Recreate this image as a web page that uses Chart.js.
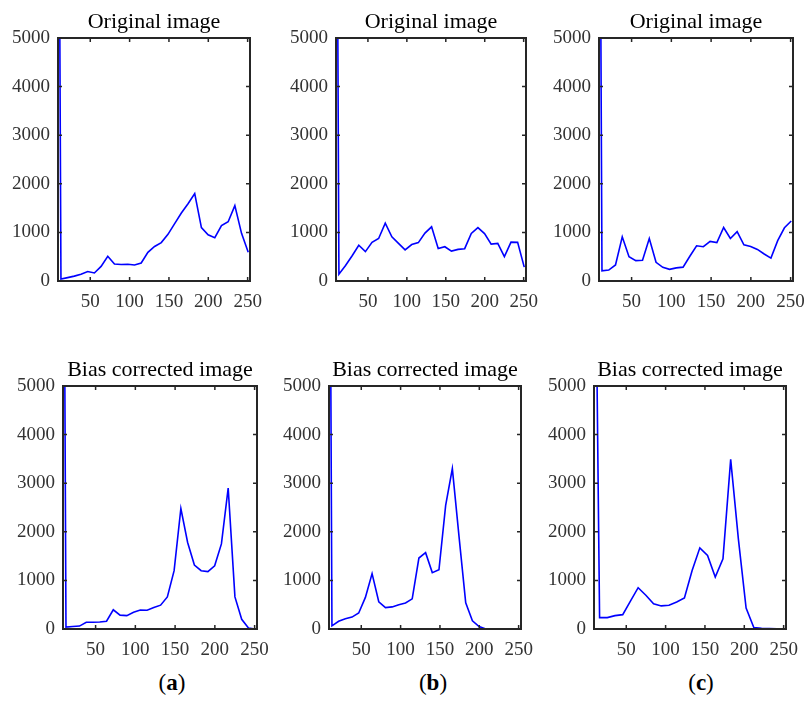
<!DOCTYPE html>
<html lang="en">
<head>
  <meta charset="UTF-8" />
  <title>Histograms: original vs bias corrected</title>
  <script src="https://cdn.jsdelivr.net/npm/chart.js"></script>
  <style>
    body { margin: 0; background: #fff; width: 804px; height: 725px; position: relative; overflow: hidden; }
    canvas { position: absolute; }
    .cap { position: absolute; top: 670px; width: 60px; margin-left: -30px; text-align: center;
           font-family: "Liberation Serif", serif; font-size: 23px; color: #000; }
    .cap b { font-weight: bold; }
  </style>
</head>
<body>
  <canvas id="a1"></canvas>
  <canvas id="b1"></canvas>
  <canvas id="c1"></canvas>
  <canvas id="a2"></canvas>
  <canvas id="b2"></canvas>
  <canvas id="c2"></canvas>
  <div class="cap" style="left:172px">(<b>a</b>)</div>
  <div class="cap" style="left:433px">(<b>b</b>)</div>
  <div class="cap" style="left:701px">(<b>c</b>)</div>

  <script>
    // 30 histogram bins over 0..255, bin centres
    const binCenters = [4.25, 12.75, 21.25, 29.75, 38.25, 46.75, 55.25, 63.75, 72.25, 80.75,
      89.25, 97.75, 106.25, 114.75, 123.25, 131.75, 140.25, 148.75, 157.25, 165.75,
      174.25, 182.75, 191.25, 199.75, 208.25, 216.75, 225.25, 233.75, 242.25, 250.75];
    // the corrected image (c) spans a wider range, so its bins are wider
    const binCentersC2 = [6.3, 16.1, 25.9, 35.7, 45.5, 55.3, 65.1, 74.9, 84.7, 94.5,
      104.3, 114.1, 123.9, 133.7, 143.5, 153.3, 163.1, 172.9, 182.7, 192.5,
      202.3, 212.1, 221.9, 231.7, 241.5, 251.3, 261.1, 270.9, 280.7, 290.5];

    // counts per bin (first bin is the background, way above the axis limit)
    const origA = [30000, 40, 70, 100, 140, 195, 165, 300, 510, 350, 340, 345, 330, 370, 590,
      710, 790, 960, 1180, 1400, 1590, 1800, 1100, 950, 890, 1140, 1220, 1550, 980, 590];
    const origB = [30000, 140, 320, 520, 735, 605, 795, 875, 1190, 910, 775, 640, 750, 790, 985,
      1115, 670, 705, 615, 650, 665, 980, 1100, 975, 760, 775, 500, 800, 795, 285];
    const origC = [30000, 210, 225, 330, 910, 500, 420, 425, 875, 385, 280, 240, 270, 285, 510,
      725, 705, 815, 790, 1100, 875, 1015, 745, 710, 650, 555, 470, 830, 1095, 1235];
    const corrA = [30000, 40, 50, 60, 140, 140, 145, 160, 395, 285, 275, 345, 390, 385, 440,
      490, 660, 1200, 2480, 1780, 1315, 1200, 1180, 1300, 1750, 2900, 660, 200, 20, 0];
    const corrB = [30000, 65, 160, 210, 245, 330, 650, 1140, 560, 440, 455, 500, 535, 620, 1460,
      1570, 1160, 1220, 2545, 3300, 1900, 540, 170, 50, 0, 0, 0, 0, 0, 0];
    const corrC = [15000, 235, 235, 275, 295, 575, 850, 695, 520, 475, 490, 555, 640, 1205, 1670,
      1515, 1070, 1445, 3490, 1850, 430, 30, 15, 10, 5, 0, 0, 0, 0, 0];

    const xTicks = [50, 100, 150, 200, 250];
    const yTicks = [0, 1000, 2000, 3000, 4000, 5000];
    const titleTop = 'Original image';
    const titleBottom = 'Bias corrected image';

    const axisColor = '#262626';
    const font = '"Liberation Serif", "Times New Roman", serif';

    // MATLAB style box with inward ticks on all four sides
    const boxPlugin = {
      id: 'box',
      afterDraw(chart) {
        const { ctx, chartArea: a, scales: { x, y } } = chart;
        ctx.save();
        ctx.strokeStyle = axisColor;
        ctx.lineWidth = 2;
        ctx.strokeRect(a.left, a.top, a.right - a.left, a.bottom - a.top);
        ctx.lineWidth = 1.5;
        ctx.beginPath();
        xTicks.forEach(v => {
          const px = x.getPixelForValue(v);
          ctx.moveTo(px, a.bottom); ctx.lineTo(px, a.bottom - 4);
          ctx.moveTo(px, a.top); ctx.lineTo(px, a.top + 4);
        });
        yTicks.forEach(v => {
          const py = y.getPixelForValue(v);
          ctx.moveTo(a.left, py); ctx.lineTo(a.left + 4, py);
          ctx.moveTo(a.right, py); ctx.lineTo(a.right - 4, py);
        });
        ctx.stroke();
        ctx.restore();
      }
    };

    // an empty right axis as wide as the left one keeps the title centred over the box
    const yAxisW = 64, xAxisH = 34, titleH = 33;

    function makeChart(id, title, centers, values, L, T, R, B) {
      const cv = document.getElementById(id);
      const w = (R - L) + 2 * yAxisW;
      const h = (B - T) + titleH + xAxisH;
      cv.style.left = (L - yAxisW) + 'px';
      cv.style.top = (T - titleH) + 'px';
      cv.width = w; cv.height = h;
      cv.style.width = w + 'px'; cv.style.height = h + 'px';

      new Chart(cv, {
        type: 'line',
        data: {
          datasets: [{
            data: centers.map((c, i) => ({ x: c, y: values[i] })),
            borderColor: '#0000ff',
            borderWidth: 1.6,
            pointRadius: 0,
            tension: 0,
            fill: false
          }]
        },
        options: {
          responsive: false,
          animation: false,
          layout: { padding: 0 },
          plugins: {
            legend: { display: false },
            tooltip: { enabled: false },
            title: {
              display: true,
              text: title,
              color: '#000',
              font: { family: font, size: 22, weight: 'normal', lineHeight: 1 },
              padding: { top: 6, bottom: 5 }
            }
          },
          scales: {
            x: {
              type: 'linear',
              min: 9,
              max: 253,
              grid: { display: false, drawTicks: false },
              border: { display: false },
              afterBuildTicks: s => { s.ticks = xTicks.map(v => ({ value: v })); },
              afterFit: s => { s.height = xAxisH; },
              ticks: {
                color: '#333',
                font: { family: font, size: 19 },
                padding: 10,
                maxRotation: 0,
                autoSkip: false,
                callback: v => String(v)
              }
            },
            y: {
              min: 0,
              max: 5000,
              grid: { display: false, drawTicks: false },
              border: { display: false },
              afterBuildTicks: s => { s.ticks = yTicks.map(v => ({ value: v })); },
              afterFit: s => { s.width = yAxisW; },
              ticks: {
                color: '#333',
                font: { family: font, size: 19 },
                padding: 8,
                callback: v => String(v)
              }
            },
            yR: {
              position: 'right',
              min: 0,
              max: 5000,
              grid: { display: false, drawTicks: false },
              border: { display: false },
              ticks: { display: false },
              afterFit: s => { s.width = yAxisW; }
            }
          }
        },
        plugins: [boxPlugin]
      });
    }

    makeChart('a1', titleTop, binCenters, origA, 58, 38, 250, 281);
    makeChart('b1', titleTop, binCenters, origB, 336, 38, 526, 281);
    makeChart('c1', titleTop, binCenters, origC, 599, 38, 793, 281);
    makeChart('a2', titleBottom, binCenters, corrA, 63, 386, 257, 629);
    makeChart('b2', titleBottom, binCenters, corrB, 329, 386, 521, 629);
    makeChart('c2', titleBottom, binCentersC2, corrC, 594, 386, 786, 629);
  </script>
</body>
</html>
